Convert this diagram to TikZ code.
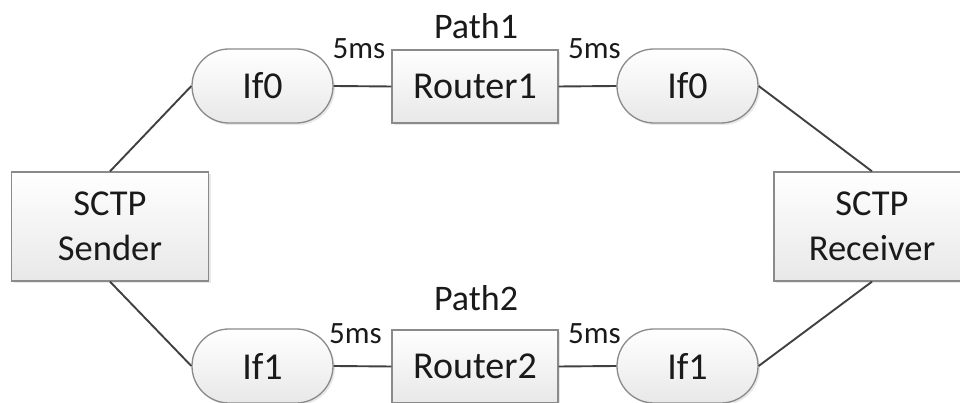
\documentclass[tikz,border=0pt]{standalone}
\usepackage{fontspec}
\setmainfont{Carlito}
\usetikzlibrary{shadows}
\definecolor{edgegray}{HTML}{8A8A8A}
\definecolor{linegray}{HTML}{404040}
\definecolor{txt}{HTML}{1A1A1A}
\tikzset{
  boxbase/.style={draw=edgegray, line width=1.3pt, top color=white, bottom color=black!9,
     drop shadow={opacity=0.18, shadow xshift=2pt, shadow yshift=-2pt},
     text=txt, align=center, inner sep=0pt},
  hostbox/.style={boxbase, rectangle, minimum width=197pt, minimum height=109pt,
     font=\fontsize{36.5}{45}\selectfont},
  routerbox/.style={boxbase, rectangle, minimum width=166pt, minimum height=73pt,
     font=\fontsize{38}{40}\selectfont},
  ifbox/.style={boxbase, rectangle, rounded corners=37pt, minimum width=141pt, minimum height=74pt,
     font=\fontsize{38}{40}\selectfont},
  link/.style={draw=linegray, line width=1.9pt},
  delay/.style={text=txt, font=\fontsize{31}{33}\selectfont, inner sep=0pt},
  pathlbl/.style={text=txt, font=\fontsize{36}{38}\selectfont, inner sep=0pt}
}
\begin{document}
\begin{tikzpicture}[x=1pt,y=1pt]
\useasboundingbox (0,0) rectangle (960,403);
\clip (0,0) rectangle (960,403);
\node[hostbox] (sender) at (110,176.5) {SCTP\\Sender};
\node[hostbox, minimum width=196pt] (receiver) at (872,176.5) {SCTP\\Receiver};
\node[ifbox] (if0l) at (262.5,317) {If0};
\node[routerbox] (r1) at (475,316.5) {Router1};
\node[ifbox] (if0r) at (687.5,317) {If0};
\node[ifbox] (if1l) at (262.5,37) {If1};
\node[routerbox] (r2) at (475,36.5) {Router2};
\node[ifbox] (if1r) at (687.5,37) {If1};
\draw[link] (sender.north) -- (if0l.west);
\draw[link] (sender.south) -- (if1l.west);
\draw[link] (if0l.east) -- (r1.west);
\draw[link] (r1.east) -- (if0r.west);
\draw[link] (if0r.east) -- (receiver.north);
\draw[link] (if1l.east) -- (r2.west);
\draw[link] (r2.east) -- (if1r.west);
\draw[link] (if1r.east) -- (receiver.south);
\node[delay] (d1) at (359,354.5) {5ms};
\node[delay] (d2) at (594.5,354.5) {5ms};
\node[delay] (d3) at (355.5,69) {5ms};
\node[delay] (d4) at (594.5,69) {5ms};
\node[pathlbl] (p1) at (476,377) {Path1};
\node[pathlbl] (p2) at (476,104.5) {Path2};
\end{tikzpicture}
\end{document}
